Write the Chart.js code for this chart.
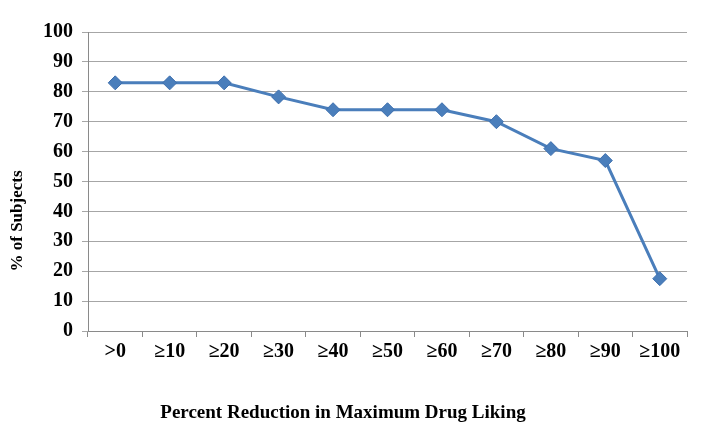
<!DOCTYPE html>
<html><head><meta charset="utf-8">
<script src="https://cdn.jsdelivr.net/npm/chart.js@4/dist/chart.umd.min.js"></script>
<style>html,body{margin:0;padding:0;background:#fff}#wrap{width:711px;height:438px}</style>
</head><body><div id="wrap"><canvas id="c" width="711" height="438"></canvas></div>
<script>
const categories = [">0","≥10","≥20","≥30","≥40","≥50","≥60","≥70","≥80","≥90","≥100"];
const percentSubjects = [83, 83, 83, 78.3, 74, 74, 74, 70, 61, 57, 17.5];
const yTicks = [0,10,20,30,40,50,60,70,80,90,100];
const xTitle = "Percent Reduction in Maximum Drug Liking";
const yTitle = "% of Subjects";

const fam = "'Liberation Serif', 'Times New Roman', serif";
const tickFont = {family: fam, weight: 'bold', size: 20};

const titlesPlugin = {
  id: 'axisTitles',
  afterDraw(chart) {
    const ctx = chart.ctx;
    ctx.save();
    ctx.fillStyle = '#000';
    ctx.textAlign = 'center';
    ctx.textBaseline = 'middle';
    ctx.font = "bold 19px " + fam;
    ctx.fillText(xTitle, 343, 413);
    ctx.translate(18, 221);
    ctx.rotate(-Math.PI / 2);
    ctx.font = "bold 17px " + fam;
    ctx.fillText(yTitle, 0, 0);
    ctx.restore();
  }
};

new Chart(document.getElementById('c'), {
  type: 'line',
  data: {labels: categories, datasets: [{
    data: percentSubjects,
    borderColor: '#4a7ebb', backgroundColor: '#4a7ebb',
    borderWidth: 3, pointStyle: 'rectRot', pointRadius: 7, pointHoverRadius: 7,
    pointBorderColor: '#3d6fae', pointBorderWidth: 1, tension: 0
  }]},
  plugins: [titlesPlugin],
  options: {
    responsive: false, animation: false,
    layout: {padding: {left: 9, right: 24, top: 32, bottom: 14}},
    plugins: {legend: {display: false}, tooltip: {enabled: false}},
    scales: {
      x: {
        offset: true,
        grid: {offset: true, drawOnChartArea: false, drawTicks: true, tickLength: 6, color: '#8a8a8a'},
        border: {color: '#8a8a8a', width: 1},
        ticks: {font: tickFont, color: '#000', padding: 3, maxRotation: 0},
        title: {display: false, text: xTitle},
        afterFit: s => { s.height = 93; }
      },
      y: {
        min: 0, max: 100,
        afterBuildTicks: s => { s.ticks = yTicks.map(v => ({value: v})); },
        grid: {color: '#a6a6a6', tickLength: 6, drawTicks: true},
        border: {color: '#8a8a8a', width: 1},
        ticks: {font: tickFont, color: '#000', padding: 9},
        title: {display: false, text: yTitle},
        afterFit: s => { s.width = 79; }
      }
    }
  }
});
</script></body></html>
